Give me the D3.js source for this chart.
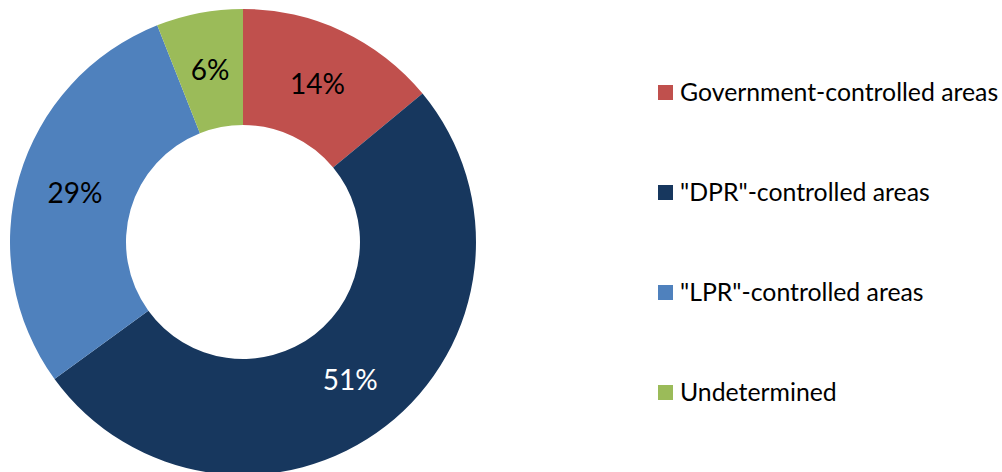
<!DOCTYPE html>
<html><head><meta charset="utf-8">
<script src="https://cdn.jsdelivr.net/npm/d3@7"></script>
<style>body{margin:0;background:#fff}svg{display:block}text{font-family:Lato,"Open Sans",sans-serif}</style>
</head><body><svg id="c" width="1002" height="472"></svg>
<script>
const categories = ["Government-controlled areas", "\"DPR\"-controlled areas", "\"LPR\"-controlled areas", "Undetermined"];
const values = [14, 51, 29, 6];
const labels = ["14%", "51%", "29%", "6%"];
const colors = ["#C0504D", "#17375E", "#4F81BD", "#9BBB59"];
const labelColors = ["#000", "#fff", "#000", "#000"];

const svg = d3.select("#c");
const cx = 243, cy = 242, rOut = 233, rIn = 117;
const pie = d3.pie().sort(null).value(d => d)(values);
const arc = d3.arc().innerRadius(rIn).outerRadius(rOut);
const g = svg.append("g").attr("transform", `translate(${cx},${cy})`);
g.selectAll("path").data(pie).join("path").attr("d", arc).attr("fill", (d, i) => colors[i]);
g.selectAll("text").data(pie).join("text")
  .attr("transform", d => `translate(${arc.centroid(d)})`)
  .attr("text-anchor", "middle").attr("dy", "0.36em")
  .attr("font-size", 28).attr("fill", (d, i) => labelColors[i])
  .text((d, i) => labels[i]);

const ly = d3.scalePoint().domain(categories).range([92.5, 392.5]);
const lg = svg.append("g");
const items = lg.selectAll("g").data(categories).join("g").attr("transform", d => `translate(658,${ly(d)})`);
items.append("rect").attr("x", 0).attr("y", -7.5).attr("width", 15).attr("height", 15).attr("fill", (d, i) => colors[i]);
items.append("text").attr("x", 22).attr("dy", "0.36em").attr("font-size", 24.8).attr("fill", "#000").text(d => d);
</script></body></html>
